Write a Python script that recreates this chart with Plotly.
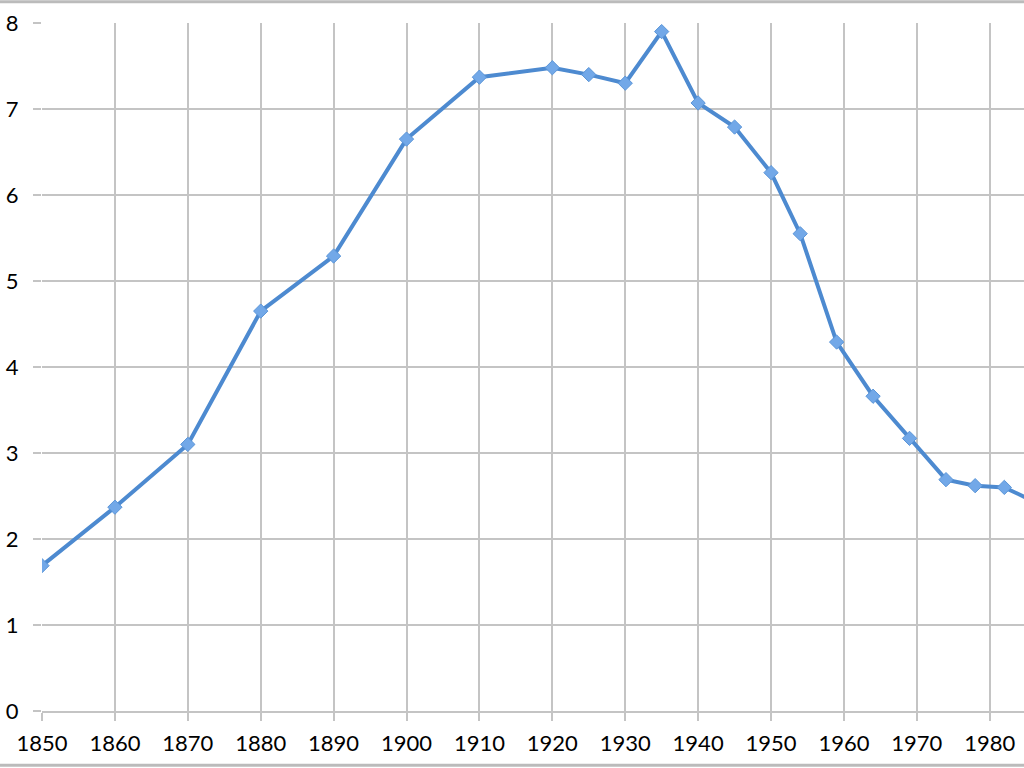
import plotly.graph_objects as go

years = [1850, 1860, 1870, 1880, 1890, 1900, 1910, 1920, 1925, 1930, 1935, 1940,
         1945, 1950, 1954, 1959, 1964, 1969, 1974, 1978, 1982, 1986]
values = [1.69, 2.37, 3.10, 4.65, 5.29, 6.65, 7.37, 7.48, 7.40, 7.30, 7.90, 7.07,
          6.79, 6.26, 5.55, 4.29, 3.66, 3.17, 2.69, 2.62, 2.60, 2.44]

x_ticks = [1850, 1860, 1870, 1880, 1890, 1900, 1910, 1920, 1930, 1940, 1950, 1960, 1970, 1980]
y_ticks = [0, 1, 2, 3, 4, 5, 6, 7, 8]

fig = go.Figure()
fig.add_trace(go.Scatter(
    x=years, y=values, mode="lines+markers",
    line=dict(color="#4d8ad0", width=4),
    marker=dict(symbol="diamond", size=11, color="#72a8e8",
                line=dict(color="#5a95d8", width=1)),
    cliponaxis=True,
))

grid = "#c4c4c4"
font = dict(family="Lato, Open Sans, sans-serif", size=22, color="#000000")
fig.update_layout(
    width=1024, height=768,
    margin=dict(l=42, r=0, t=23, b=57, autoexpand=False),
    paper_bgcolor="white", plot_bgcolor="white",
    showlegend=False,
    font=font,
    xaxis=dict(range=[1850, 1984.7], tickvals=x_ticks, showgrid=True,
               gridcolor=grid, gridwidth=2, zeroline=False, automargin=False,
               showline=True, linecolor=grid, linewidth=2,
               ticks="outside", ticklen=8, tickcolor=grid, tickwidth=2,
               ticklabelstandoff=4, tickfont=font),
    yaxis=dict(range=[0, 8], tickvals=y_ticks, showgrid=True,
               gridcolor=grid, gridwidth=2, zeroline=False, automargin=False,
               showline=False,
               ticks="outside", ticklen=8, tickcolor=grid, tickwidth=2,
               ticklabelstandoff=10, tickfont=font),
    shapes=[
        dict(type="line", xref="paper", yref="paper", x0=-0.05, x1=1.0,
             y0=1.031, y1=1.031, line=dict(color="#bbbbbb", width=3)),
        dict(type="line", xref="paper", yref="paper", x0=-0.05, x1=1.0,
             y0=-0.079, y1=-0.079, line=dict(color="#bbbbbb", width=3)),
    ],
)

fig.write_html("out.html", config={"displayModeBar": False},
               post_script="document.body.style.margin='0';document.body.style.overflow='hidden';")
